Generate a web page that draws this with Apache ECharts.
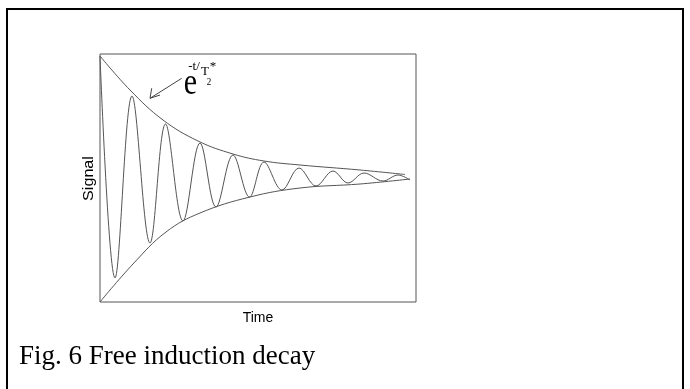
<!DOCTYPE html>
<html><head><meta charset="utf-8">
<script src="https://cdn.jsdelivr.net/npm/echarts@6/dist/echarts.min.js"></script>
<style>html,body{margin:0;padding:0;background:#fff}#c{width:690px;height:389px}</style>
</head><body><div id="c"></div>
<script>
// Time offsets and signal values (arbitrary units)
const signalTime  = [0, 15, 32, 50, 65.5, 83, 100, 116, 133, 149.5, 164, 182, 199, 216, 233, 248, 264, 283, 298, 310];
const signalValue = [123, -99, 83, -64, 55, -42, 36, -28, 24, -18, 17, -11, 11, -7, 8, -4, 6, -2, 4, -1];
const upperTime   = [0, 30, 63, 98, 133, 164, 200, 260, 305];
const upperValue  = [123, 89, 59, 38, 25, 18, 14, 9, 4.5];
const lowerTime   = [0, 33, 66, 100, 150, 200, 260, 310];
const lowerValue  = [-123, -85, -53, -34, -18, -9, -5, 0];
const xLabel = 'Time';
const yLabel = 'Signal';
const caption = 'Fig. 6 Free induction decay';

const pairs = (xs, ys) => xs.map((x, i) => [x, ys[i]]);
const chart = echarts.init(document.getElementById('c'), null, {renderer: 'canvas'});
const lineCol = '#555';
const serif = 'Liberation Serif';
const sans = 'Liberation Sans';
const txt = (x, y, text, size, family, extra, align) => Object.assign({
  type: 'text', x: x, y: y,
  style: {text: text, fontSize: size, fontFamily: family, fill: '#000', align: align || 'center', verticalAlign: 'middle'}
}, extra || {});
chart.setOption({
  animation: false,
  backgroundColor: '#fff',
  grid: {left: 100, top: 54, width: 316, height: 248, show: true, borderColor: '#555', borderWidth: 1, backgroundColor: 'transparent'},
  xAxis: {type: 'value', min: 0, max: 316, show: false},
  yAxis: {type: 'value', min: -123, max: 125, show: false},
  series: [
    {type: 'line', data: pairs(signalTime, signalValue), smooth: 0.36, showSymbol: false, lineStyle: {color: lineCol, width: 1}},
    {type: 'line', data: pairs(upperTime, upperValue), smooth: 0.4, showSymbol: false, lineStyle: {color: lineCol, width: 1}},
    {type: 'line', data: pairs(lowerTime, lowerValue), smooth: 0.4, showSymbol: false, lineStyle: {color: lineCol, width: 1}}
  ],
  graphic: [
    {type: 'rect', shape: {x: 7, y: 9, width: 676, height: 400}, style: {fill: 'none', stroke: '#000', lineWidth: 2}},
    txt(258, 318, xLabel, 14, sans),
    txt(89, 178.5, yLabel, 14, sans, {rotation: Math.PI / 2, scaleX: 1.15}),
    txt(19, 357, caption, 27, serif, null, 'left'),
    txt(190.5, 84, 'e', 30, serif, {scaleY: 1.25}),
    txt(194, 67, '-t/', 13, serif),
    txt(205, 72, 'T', 13, serif),
    txt(209, 82, '2', 9, serif, {scaleY: 1.2}),
    txt(213, 67, '*', 13, serif),
    {type: 'polyline', shape: {points: [[181.7, 78.3], [150, 98.3]]}, style: {stroke: '#444', lineWidth: 1, fill: 'none'}},
    {type: 'polyline', shape: {points: [[151.7, 88.3], [150, 98.3], [160, 95]]}, style: {stroke: '#444', lineWidth: 1, fill: 'none'}}
  ]
});
</script></body></html>
